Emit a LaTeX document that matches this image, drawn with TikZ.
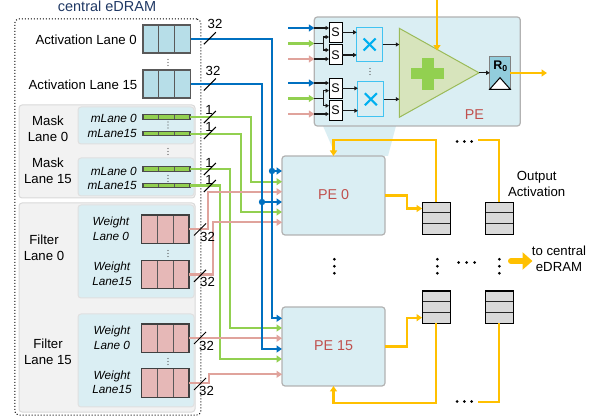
\documentclass[tikz,border=0pt]{standalone}
\usepackage{fontspec}
\setmainfont{Liberation Sans}
\usepackage{xcolor}
\usetikzlibrary{arrows.meta,calc,shapes.geometric}
\definecolor{lanebg}{HTML}{F2F2F2}
\definecolor{peblue}{HTML}{DAEEF3}
\definecolor{actfill}{HTML}{B7DEE8}
\definecolor{maskgreen}{HTML}{92D050}
\definecolor{wtfill}{HTML}{E6B8B7}
\definecolor{wtline}{HTML}{E0A39C}
\definecolor{busblue}{HTML}{0070C0}
\definecolor{outorange}{HTML}{FFC000}
\definecolor{titleblue}{HTML}{1F3864}
\definecolor{pered}{HTML}{C0504D}
\definecolor{crossblue}{HTML}{00B0F0}
\definecolor{addfill}{HTML}{D7E4BC}
\definecolor{addline}{HTML}{9BBB59}
\definecolor{regfill}{HTML}{92CDDC}
\tikzset{
  txt/.style={font=\fontsize{13.2}{16}\selectfont, align=center, inner sep=0pt},
  wtxt/.style={font=\fontsize{11.8}{14.5}\selectfont\itshape, align=center, inner sep=0pt},
  petxt/.style={font=\fontsize{14.3}{16}\selectfont, text=pered, inner sep=0pt},
  base/.style={rectangle, inner sep=0pt, outer sep=0pt},
  lanebox/.style={base, draw=black!15, fill=lanebg, rounded corners=3pt, line width=1pt, minimum width=176pt},
  subbox/.style={base, draw=black!12, fill=peblue, rounded corners=3pt, line width=1pt, minimum width=116pt},
  pebox/.style={base, draw=black!30, fill=peblue, rounded corners=3pt, line width=1.2pt, minimum width=103pt, minimum height=79pt},
  hcells/.style={path picture={
    \foreach \t in {0.333,0.667}
      \draw[black!65, line width=1.2pt] ($(path picture bounding box.south west)!\t!(path picture bounding box.south east)$) -- ($(path picture bounding box.north west)!\t!(path picture bounding box.north east)$);
  }},
  vcells/.style={path picture={
    \foreach \t in {0.32,0.66}
      \draw[black!85, line width=1.2pt] ($(path picture bounding box.north west)!\t!(path picture bounding box.south west)$) -- ($(path picture bounding box.north east)!\t!(path picture bounding box.south east)$);
  }},
  actbuf/.style={base, hcells, draw=black!65, fill=actfill, line width=1.2pt, minimum width=47.5pt, minimum height=28pt},
  wtbuf/.style={base, hcells, draw=black!75, fill=wtfill, line width=1.2pt, minimum width=47.5pt, minimum height=28.5pt},
  maskbar/.style={base, hcells, draw=black!70, fill=maskgreen, line width=1.1pt, minimum width=47pt, minimum height=4.5pt},
  queue/.style={base, vcells, draw=black, fill=black!15, line width=1.1pt, minimum width=28.3pt, minimum height=32.4pt},
  selbox/.style={base, draw=black, fill=white, line width=1pt, minimum width=13.3pt, minimum height=20pt, font=\fontsize{12.5}{14}\selectfont},
  mulbox/.style={base, draw=crossblue!70!peblue, fill=peblue, line width=1pt, minimum width=26pt, minimum height=34.6pt, path picture={
    \draw[crossblue, line width=2.1pt] ([shift={(-6pt,-6pt)}]path picture bounding box.center) -- ([shift={(6pt,6pt)}]path picture bounding box.center);
    \draw[crossblue, line width=2.1pt] ([shift={(-6pt,6pt)}]path picture bounding box.center) -- ([shift={(6pt,-6pt)}]path picture bounding box.center);
  }},
  blueln/.style={draw=busblue, line width=2.2pt},
  greenln/.style={draw=maskgreen, line width=2.2pt},
  pinkln/.style={draw=wtline, line width=2.2pt},
  orangeln/.style={draw=outorange, line width=2.2pt},
  tip/.style={-{Triangle[length=5.5pt,width=7pt]}},
  thinarr/.style={draw=black!90, line width=1.1pt, -{Triangle[length=3.5pt,width=4pt]}},
  thinln/.style={draw=black!90, line width=1.1pt},
  slashln/.style={draw=black, line width=1pt},
}
\begin{document}
\begin{tikzpicture}[x=1pt,y=-1pt]
  \useasboundingbox (0,0) rectangle (597,419);

  \node[txt, text=titleblue, font=\fontsize{14.5}{16}\selectfont] (title) at (107,6) {central eDRAM};
  \node[base, draw=black, dotted, line width=1pt, rounded corners=4pt, minimum width=186pt, minimum height=396pt] (edram) at (107.75,217) {};
  \node[lanebox, minimum height=93pt] (masks) at (107,151.5) {};
  \node[lanebox, minimum height=209pt] (filters) at (107,307.5) {};
  \node[subbox, minimum height=37pt] (mask0) at (136,125.5) {};
  \node[subbox, minimum height=38pt] (mask15) at (136,177) {};
  \node[subbox, minimum height=93pt] (filter0) at (136,251.5) {};
  \node[subbox, minimum height=93pt] (filter15) at (136,360.5) {};

  \node[actbuf] (act0) at (166.75,39) {};
  \node[actbuf] (act15) at (166.75,84) {};
  \node[txt, anchor=east] (act0txt) at (137,39.5) {Activation Lane 0};
  \node[txt, anchor=east] (act15txt) at (137.5,84.5) {Activation Lane 15};

  \foreach \nm/\yy in {m00/117,m015/133.7,m150/169,m1515/185.5}
    \node[maskbar] (\nm) at (166.5,\yy) {};
  \foreach \nm/\yy/\lbl in {mt00/118.5/mLane 0,mt015/133.5/mLane15,mt150/171/mLane 0,mt1515/186/mLane15}
    \node[wtxt, anchor=east] (\nm) at (137,\yy) {\lbl};
  \node[txt] (masktxt0) at (48,129) {Mask\\Lane 0};
  \node[txt] (masktxt15) at (48,171) {Mask\\Lane 15};

  \foreach \nm/\yy in {w00/229.25,w015/274.5,w150/338.25,w1515/383}
    \node[wtbuf] (\nm) at (165.25,\yy) {};
  \node[wtxt] (wt00) at (111,229) {Weight\\Lane 0};
  \node[wtxt] (wt015) at (112,274) {Weight\\Lane15};
  \node[wtxt] (wt150) at (112,338) {Weight\\Lane 0};
  \node[wtxt] (wt1515) at (112,382.5) {Weight\\Lane15};
  \node[txt] (filtxt0) at (44,248) {Filter\\Lane 0};
  \node[txt] (filtxt15) at (48,352) {Filter\\Lane 15};

  \fill[peblue] (323,126) -- (396,126) -- (388,156) -- (336,156) -- cycle;
  \node[base, draw=black!30, fill=peblue, rounded corners=3pt, line width=1.2pt, minimum width=206pt, minimum height=109pt] (pe) at (417.3,71.5) {};
  \node[pebox] (pe0) at (333.5,195.5) {};
  \node[pebox] (pe15) at (333.5,346.5) {};
  \node[petxt] (pe0txt) at (333.5,195) {PE 0};
  \node[petxt] (pe15txt) at (333.5,346) {PE 15};
  \node[petxt] (petxt) at (474.3,115) {PE};

  \foreach \i/\dy in {1/24.5,2/13.8,3/3.8,4/-6.5,5/-16.5,6/-26.8}
    \coordinate (pe0in\i) at ([yshift=\dy pt]pe0.west);
  \foreach \i/\dy in {1/28.2,2/18.5,3/7.8,4/-2.5,5/-12.5,6/-27.8}
    \coordinate (pe15in\i) at ([yshift=\dy pt]pe15.west);

  \draw[greenln, tip] (m00.east) -- ++(61,0) |- (pe0in2);
  \draw[greenln, tip] (m015.east) -- ++(51,0) |- (pe0in5);
  \draw[greenln, tip] (m150.east) -- ++(40,0) |- (pe15in2);
  \draw[greenln, tip] (m1515.east) -- ++(30,0) |- (pe15in5);
  \draw[pinkln, tip] (w00.east) -- ++(19,0) |- (pe0in3);
  \draw[pinkln, tip] (w015.east) -- ++(24,0) |- (pe0in6);
  \draw[pinkln, tip] (w150.east) -- (w150.east -| pe15.west);
  \draw[pinkln, tip] (w1515.east) -- ++(20,0) |- (pe15in6);
  \draw[blueln, tip] (act0.east) -- ++(81.5,0) coordinate (busa) |- (pe15in1);
  \draw[blueln, tip] (act15.east) -- ++(71.5,0) coordinate (busb) |- (pe15in4);
  \draw[blueln, tip] (busa |- pe0in1) -- (pe0in1);
  \draw[blueln, tip] (busb |- pe0in4) -- (pe0in4);
  \fill[busblue] (busa |- pe0in1) circle (3.2);
  \fill[busblue] (busb |- pe0in4) circle (3.2);

  \foreach \xx/\yy in {209.8/38.3,209.8/84.5,209.8/117,209.8/133,209.8/169,209.8/186,200/229.5,200/275.8,200/338,200/384}
    \draw[slashln] (\xx,\yy) ++(-6,6) -- ++(12,-12);
  \node[txt] (w32a) at (215,24) {32};
  \node[txt] (w32b) at (213,70.5) {32};
  \foreach \nm/\yy in {w1a/110,w1b/127,w1c/163,w1d/180}
    \node[txt] (\nm) at (209,\yy) {1};
  \foreach \nm/\xx/\yy in {w32c/207.5/237,w32d/207.5/282,w32e/206.5/346,w32f/206.5/391}
    \node[txt] (\nm) at (\xx,\yy) {32};

  \foreach \yy in {62.5,125,151.5,178.5,253.5,361.5} {
    \fill[black!70] (168,\yy-3) circle (.7);
    \fill[black!70] (168,\yy) circle (.7);
    \fill[black!70] (168,\yy+3) circle (.7);
  }
  \fill[black!70] (370,68.5) circle (.7);
  \fill[black!70] (370,71.5) circle (.7);
  \fill[black!70] (370,74.5) circle (.7);

  \foreach \nm/\yy in {s0/32.3,s1/55,s2/88.3,s3/110.7}
    \node[selbox] (\nm) at (335.65,\yy) {S};
  \node[mulbox] (mul0) at (369.7,44.5) {};
  \node[mulbox] (mul1) at (370.85,99.2) {};
  \node[isosceles triangle, isosceles triangle stretches, inner sep=0pt, outer sep=0pt, draw=addline, fill=addfill, line width=1pt, minimum width=89pt, minimum height=79.7pt, anchor=west] (adder) at (399.3,72.8) {};
  \fill[maskgreen] (410.8,68.5) rectangle (443.8,79.5);
  \fill[maskgreen] (421.5,58) rectangle (433.5,90.5);
  \node[base, draw=black!50, fill=regfill, line width=1.2pt, minimum width=20.6pt, minimum height=32.6pt] (reg) at (500,73) {};
  \draw[draw=black, fill=white, line width=1pt] (reg.south west) -- (reg.south east) -- ([yshift=11.6pt]reg.south) -- cycle;
  \node[inner sep=0pt, font=\fontsize{12.5}{14}\selectfont\bfseries] (regtxt) at (500.5,66.5) {R\textsubscript{0}};

  \foreach \nm/\yy/\sty in {ia/28/blueln,ib/43.5/greenln,ic/59/pinkln,id/83/blueln,ie/98.5/greenln,ig/114/pinkln} {
    \coordinate (\nm) at (288,\yy);
    \draw[\sty, tip] (\nm) -- (\nm -| pe.west);
  }
  \draw[thinarr] (ia -| pe.west) -- (ia -| s0.west);
  \draw[thinln] (ib -| pe.west) -- ++(9.5,0) coordinate (bra);
  \draw[thinarr] (bra) |- ([yshift=-4.7pt]s0.west);
  \draw[thinarr] (bra) |- ([yshift=5pt]s1.west);
  \draw[thinarr] (ic -| pe.west) -- (ic -| s1.west);
  \draw[thinarr] (id -| pe.west) -- (id -| s2.west);
  \draw[thinln] (ie -| pe.west) -- ++(9.5,0) coordinate (brb);
  \draw[thinarr] (brb) |- ([yshift=-2.4pt]s2.west);
  \draw[thinarr] (brb) |- ([yshift=5pt]s3.west);
  \draw[thinarr] (ig -| pe.west) -- (ig -| s3.west);
  \draw[thinarr] (s0.east) -- (s0.east -| mul0.west);
  \draw[thinarr] (s1.east) -- (s1.east -| mul0.west);
  \draw[thinarr] (s2.east) -- (s2.east -| mul1.west);
  \draw[thinarr] (s3.east) -- (s3.east -| mul1.west);
  \draw[thinarr] (mul0.east) -- (mul0.east -| adder.west);
  \draw[thinarr] (mul1.east) -- (mul1.east -| adder.west);
  \draw[thinarr] (adder.apex) -- (adder.apex -| reg.west);
  \coordinate (petop) at (437,-2);
  \draw[orangeln, tip] (petop) -- (petop |- adder.left side);
  \coordinate (peout) at (547,73);
  \draw[orangeln, tip] (reg.east) -- (peout);

  \node[queue] (q00) at (436.2,218.5) {};
  \node[queue] (q01) at (499.3,218.5) {};
  \node[queue] (q10) at (436.2,307.2) {};
  \node[queue] (q11) at (499.3,307.2) {};
  \draw[orangeln, tip] (pe0.east) -- ++(22,0) |- ([yshift=10pt]q00.west);
  \draw[orangeln, tip] (pe15.east) -- ++(22,0) |- ([yshift=-10.5pt]q10.west);
  \draw[orangeln, tip] (q00.north) -- ++(0,-62) -| (pe0.north);
  \draw[orangeln, tip] (q10.south) -- ++(0,79.3) -| (pe15.south);
  \draw[orangeln] (q01.north) -- ++(0,-62) -- ++(-21,0);
  \draw[orangeln] (q11.south) -- ++(0,78.8) -- ++(-21,0);

  \foreach \xx/\yy in {457/141.5,464.3/141.5,471.6/141.5,457/401.5,464.3/401.5,471.6/401.5,458.7/262.5,466.7/262.5,474.7/262.5,334.3/259.3,334.3/266.3,334.3/273.3,437.3/259.3,437.3/266.3,437.3/273.3,499.3/259.3,499.3/266.3,499.3/273.3}
    \fill[black] (\xx,\yy) circle (1.5);

  \node[txt] (outtxt) at (536.7,183.5) {Output\\Activation};
  \node[txt] (totxt) at (559,258.5) {to central\\eDRAM};
  \coordinate (bigarr) at (511,261);
  \draw[draw=outorange, line width=6pt, line cap=round, -{Triangle[length=10pt,width=17pt]}] (bigarr) -- ++(21.5,0);
\end{tikzpicture}
\end{document}
